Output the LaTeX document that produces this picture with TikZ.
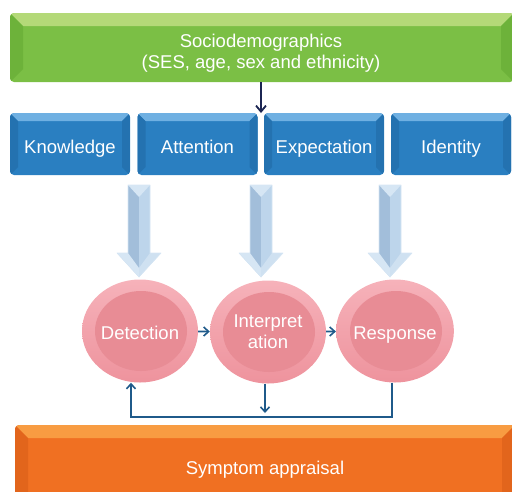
\documentclass[tikz,border=0pt]{standalone}
\usepackage{fontspec}
\setmainfont{Liberation Sans}
\usetikzlibrary{arrows.meta,shapes.geometric}
\definecolor{cgreen}{HTML}{7BBF45}
\definecolor{cgreenT}{HTML}{B4D978}
\definecolor{cgreenL}{HTML}{6DB23A}
\definecolor{cblue}{HTML}{2A7FC1}
\definecolor{cblueT}{HTML}{6FB0E2}
\definecolor{cblueL}{HTML}{2472B0}
\definecolor{corange}{HTML}{F07022}
\definecolor{corangeT}{HTML}{F89C42}
\definecolor{corangeL}{HTML}{E2651C}
\definecolor{cpinkT}{HTML}{F6B2BA}
\definecolor{cpinkO}{HTML}{EE939D}
\definecolor{cpinkI}{HTML}{E88C95}
\definecolor{cbaL}{HTML}{A2BEDA}
\definecolor{cbaR}{HTML}{BDD5EB}
\definecolor{cbaE}{HTML}{D6E6F4}
\definecolor{cline}{HTML}{1F5A8A}
\definecolor{cnavy}{HTML}{1B2552}
\tikzset{
  bevelbox/.style n args={4}{draw=none, fill=#1, rounded corners=4pt, inner sep=0pt,
    text=white, font=\fontsize{18.5}{21}\selectfont, align=center, text height=18pt, text depth=4pt,
    path picture={
      \fill[#2, sharp corners] (path picture bounding box.north west) -- (path picture bounding box.north east)
        -- ([xshift=-#4,yshift=-#4]path picture bounding box.north east)
        -- ([xshift=#4,yshift=-#4]path picture bounding box.north west) -- cycle;
      \fill[#3, sharp corners] (path picture bounding box.north west)
        -- ([xshift=#4,yshift=-#4]path picture bounding box.north west)
        -- ([xshift=#4,yshift=#4]path picture bounding box.south west)
        -- (path picture bounding box.south west) -- cycle;
      \fill[#3, sharp corners] (path picture bounding box.north east)
        -- ([xshift=-#4,yshift=-#4]path picture bounding box.north east)
        -- ([xshift=-#4,yshift=#4]path picture bounding box.south east)
        -- (path picture bounding box.south east) -- cycle;
    }},
  bluebox/.style={bevelbox={cblue}{cblueT}{cblueL}{8pt}, minimum width=120pt, minimum height=62pt, text height=22pt},
  txt/.style={text=white, font=\fontsize{18.5}{21}\selectfont, align=center, inner sep=0pt},
  circ/.style={ellipse, draw=none, top color=cpinkT, bottom color=cpinkO, minimum width=116pt, minimum height=103pt,
    inner sep=0pt, text=white, font=\fontsize{18.5}{21}\selectfont, align=center,
    path picture={\fill[cpinkI] ([xshift=1pt]path picture bounding box.center) ellipse (46pt and 40pt);}},
  oneline/.style={text height=21pt, text depth=4pt},
  conn/.style={draw=cline, line width=1.6pt, -{Straight Barb[length=5pt,width=9pt]}},
  navyarrow/.style={draw=cnavy, line width=1.8pt, -{Straight Barb[length=6pt,width=10pt]}}
}
\begin{document}
\begin{tikzpicture}[x=1pt,y=-1pt]
\useasboundingbox (0,0) rectangle (512,491);
% top bar
\node[bevelbox={cgreen}{cgreenT}{cgreenL}{13pt}, minimum width=504pt, minimum height=69pt] (socio) at (262,47.5) {};
\node[txt] (sociotxt) at (261,53) {Sociodemographics\\(SES, age, sex and ethnicity)};
% blue boxes
\node[bluebox] (know) at (70,144) {Knowledge};
\node[bluebox] (att) at (197.5,144) {Attention};
\node[bluebox] (exp) at (324,144) {Expectation};
\node[bluebox] (ident) at (451,144) {Identity};
\coordinate (gap) at (261,113);
\draw[navyarrow] (socio.south -| gap) -- (gap);
% block arrows
\foreach \x in {139,261,390}{
  \fill[cbaL] (\x-11,185) -- (\x,185) -- (\x,277) -- (\x-22,253) -- (\x-11,253) -- cycle;
  \fill[cbaR] (\x,185) -- (\x+11,185) -- (\x+11,253) -- (\x+22,253) -- (\x,277) -- cycle;
  \fill[cbaE] (\x-11,185) -- (\x+11,185) -- (\x,197) -- cycle;
  \fill[cbaE] (\x-22,253) -- (\x-11,253) -- (\x,268) -- (\x,277) -- cycle;
  \fill[cbaE!70!cbaR] (\x+22,253) -- (\x+11,253) -- (\x,268) -- (\x,277) -- cycle;
  \draw[cbaE, line width=0.6pt, line join=round] (\x-11,185) -- (\x+11,185) -- (\x+11,253) -- (\x+22,253) -- (\x,277) -- (\x-22,253) -- (\x-11,253) -- cycle;
}
% circles
\node[circ, oneline] (det) at (140,331) {Detection};
\node[circ] (int) at (268,332) {Interpret\\ation};
\node[circ, oneline] (resp) at (395,331) {Response};
\draw[conn] (det) -- (int);
\draw[conn] (int) -- (resp);
\coordinate (fb) at (0,417);
\draw[conn] ([xshift=-3pt]resp.south) |- ([xshift=-9pt]det.south |- fb) -- ([xshift=-9pt]det.south);
\draw[conn] ([xshift=-3pt]int.south) -- ([xshift=-3pt]int.south |- 0,413);
% bottom bar
\node[bevelbox={corange}{corangeT}{corangeL}{13pt}, minimum width=500pt, minimum height=84pt] (symp) at (265,467) {Symptom appraisal};
\end{tikzpicture}
\end{document}
